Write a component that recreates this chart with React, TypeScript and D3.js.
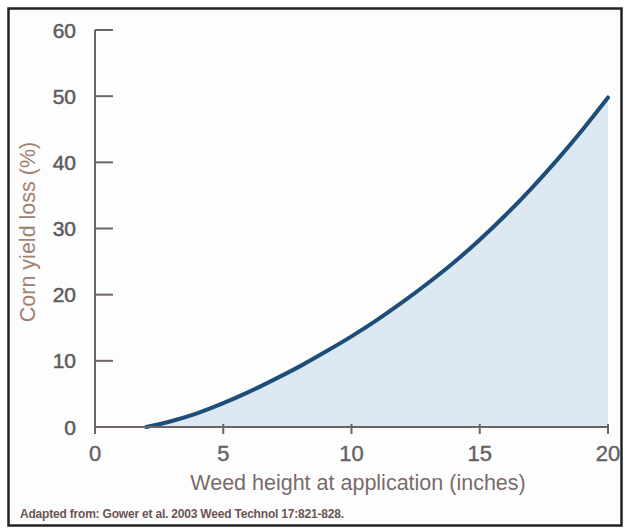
import React from "react";
import * as d3 from "d3";

const weedHeight = [2, 3, 4, 5, 6, 7, 8, 9, 10, 11, 12, 13, 14, 15, 16, 17, 18, 19, 20];
const yieldLoss = [0, 0.9, 2.1, 3.6, 5.3, 7.2, 9.2, 11.4, 13.7, 16.2, 18.9, 21.8, 24.9, 28.3, 32.0, 36.0, 40.3, 44.9, 49.8];
const xTicks = [0, 5, 10, 15, 20];
const yTicks = [0, 10, 20, 30, 40, 50, 60];
const xTitle = "Weed height at application (inches)";
const yTitle = "Corn yield loss (%)";
const caption = "Adapted from: Gower et al. 2003 Weed Technol 17:821-828.";

export default function App() {
  const W = 625, H = 529;
  const x = d3.scaleLinear().domain([0, 20]).range([95, 608]);
  const y = d3.scaleLinear().domain([0, 60]).range([427, 30]);
  const pts = weedHeight.map((h, i) => ({ h, v: yieldLoss[i] }));
  const line = d3.line<{ h: number; v: number }>().x(d => x(d.h)).y(d => y(d.v)).curve(d3.curveMonotoneX);
  const area = d3.area<{ h: number; v: number }>().x(d => x(d.h)).y0(y(0)).y1(d => y(d.v)).curve(d3.curveMonotoneX);
  const axisCol = "#6e6464";
  const font = "'Liberation Sans', Arial, sans-serif";
  return (
    <svg width={W} height={H} style={{ position: "absolute", left: 0, top: 0, background: "#fff" }} fontFamily={font}>
      <rect x={0} y={0} width={W} height={H} fill="#fff" />
      <rect x={8.5} y={8.5} width={613} height={517} fill="#fdfdfd" stroke="#222" strokeWidth={2.5} />
      <path d={area(pts) || ""} fill="#dce9f2" />
      <path d={line(pts) || ""} fill="none" stroke="#1d4d78" strokeWidth={4} strokeLinecap="round" />
      {/* y axis */}
      <line x1={x(0)} x2={x(0)} y1={y(60)} y2={433} stroke={axisCol} strokeWidth={2} />
      {yTicks.map(t => (
        <g key={"y" + t}>
          <line x1={x(0)} x2={x(0) + 18} y1={y(t)} y2={y(t)} stroke={axisCol} strokeWidth={2} />
          <text x={76} y={y(t)} dy="0.36em" textAnchor="end" fontSize={21} fill="#605a5a" stroke="#605a5a" strokeWidth={0.5}>{t}</text>
        </g>
      ))}
      {/* x axis */}
      <line x1={x(0)} x2={x(20)} y1={y(0)} y2={y(0)} stroke={axisCol} strokeWidth={2} />
      {xTicks.map(t => (
        <g key={"x" + t}>
          <line x1={x(t)} x2={x(t)} y1={y(0) - 3} y2={y(0) + 7} stroke={axisCol} strokeWidth={2} />
          <text x={x(t)} y={461} textAnchor="middle" fontSize={22} fill="#666060" stroke="#666060" strokeWidth={0.4}>{t}</text>
        </g>
      ))}
      <text x={358} y={490} textAnchor="middle" fontSize={21.5} fill="#7a6b6b">{xTitle}</text>
      <text transform={`translate(35,232) rotate(-90)`} textAnchor="middle" fontSize={21.5} fill="#a0806f">{yTitle}</text>
      <text x={20} y={518} fontSize={12} fill="#6a5552" fontWeight="bold" letterSpacing={-0.2}>{caption}</text>
    </svg>
  );
}
